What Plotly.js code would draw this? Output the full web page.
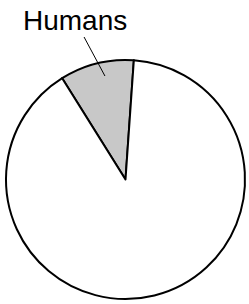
<!DOCTYPE html>
<html>
<head>
<meta charset="utf-8">
<script src="https://cdn.plot.ly/plotly-3.0.1.min.js"></script>
<style>html,body{margin:0;padding:0;background:#fff;}</style>
</head>
<body>
<div id="chart" style="width:249px;height:304px;"></div>
<script>
const labels = ["Humans", "Other"];
const values = [10, 90];
const colors = ["#c8c8c8", "#ffffff"];

const data = [{
  type: "pie",
  labels: labels,
  values: values,
  sort: false,
  direction: "clockwise",
  rotation: -32,
  textinfo: "none",
  hoverinfo: "none",
  marker: { colors: colors, line: { color: "#000000", width: 2 } },
  showlegend: false
}];

const layout = {
  width: 249,
  height: 304,
  margin: { l: 6, r: 4, t: 60, b: 5 },
  paper_bgcolor: "#ffffff",
  plot_bgcolor: "#ffffff",
  showlegend: false,
  annotations: [{
    text: labels[0],
    xref: "paper", yref: "paper",
    x: 0.414, y: 0.933,
    ax: -30, ay: -56,
    showarrow: true,
    arrowhead: 0,
    arrowwidth: 1,
    arrowcolor: "#000000",
    font: { family: "Liberation Sans, Arial, sans-serif", size: 28, color: "#000000" }
  }]
};

Plotly.newPlot("chart", data, layout, { staticPlot: true, displayModeBar: false });
</script>
</body>
</html>
